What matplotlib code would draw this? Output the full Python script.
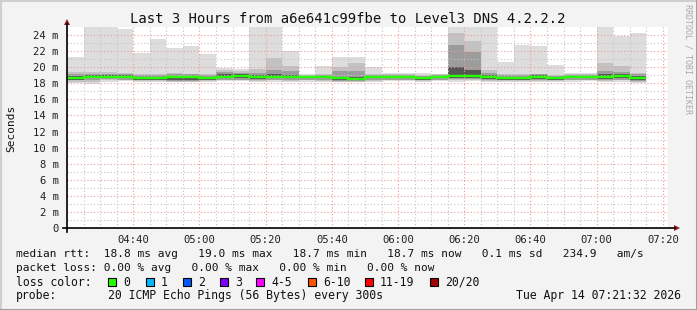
import matplotlib
matplotlib.use("Agg")
import matplotlib.pyplot as plt
import numpy as np
from matplotlib.patches import Rectangle, Polygon
from matplotlib.lines import Line2D

plt.rcParams['font.family'] = ['DejaVu Sans Mono']

W, H = 697, 310

# 5 minute smokeping steps, first bar starts 04:20, last one ends 07:15
first_bar = "04:20"
step_min = 5
t_start = "04:21:32"
t_end = "07:21:32"

# smoke levels (ms), one value per 5 min step
max_ms = [21.3, 25.5, 25.5, 24.8, 21.8, 23.5, 22.4, 22.6, 21.7, 19.9, 19.75, 25.5, 25.5, 22.0,
          19.1, 20.1, 21.3, 21.3, 20.0, 19.3, 19.25, 19.3, 19.2, 25.5, 25.5, 25.5, 20.6, 22.8,
          22.65, 20.3, 19.25, 19.25, 25.5, 23.9, 24.2]
hi1_ms = [19.4, 19.4, 19.4, 19.3, 19.2, 19.2, 19.3, 19.2, 19.1, 19.7, 19.5, 19.8, 21.2, 20.2,
          19.0, 19.1, 20.0, 20.5, 19.1, 19.2, 19.2, 19.0, 19.1, 24.2, 23.2, 19.6, 19.1, 19.2,
          19.2, 19.0, 19.1, 19.1, 20.5, 20.1, 19.3]
hi2_ms = [19.1, 19.2, 19.2, 19.2, 19.0, 19.0, 19.1, 19.1, 19.0, 19.4, 19.3, 19.3, 19.6, 19.5,
          18.95, 19.0, 19.5, 19.5, 19.0, 19.0, 19.0, 18.9, 19.0, 22.8, 21.9, 19.3, 19.0, 19.0,
          19.1, 18.9, 19.0, 19.0, 19.5, 19.4, 19.1]
hi3_ms = [18.9, 19.0, 19.0, 19.0, 18.8, 18.8, 18.9, 18.9, 18.8, 19.1, 19.1, 19.0, 19.1, 19.0,
          18.9, 18.9, 18.8, 18.8, 18.9, 18.9, 18.9, 18.8, 18.9, 20.0, 19.6, 19.0, 18.8, 18.8,
          19.0, 18.8, 18.9, 18.9, 19.1, 19.1, 18.9]
median_ms = [18.6, 18.8, 18.8, 18.8, 18.6, 18.6, 18.8, 18.8, 18.6, 18.8, 18.9, 18.8, 18.8, 18.8,
             18.8, 18.8, 18.6, 18.55, 18.8, 18.8, 18.8, 18.6, 18.8, 18.95, 18.95, 18.75, 18.6, 18.6,
             18.8, 18.65, 18.8, 18.8, 18.8, 18.95, 18.6]
lo3_ms = [18.45, 18.6, 18.65, 18.6, 18.45, 18.45, 18.35, 18.35, 18.45, 18.6, 18.6, 18.55, 18.6, 18.6,
          18.6, 18.6, 18.4, 18.4, 18.6, 18.6, 18.6, 18.45, 18.6, 18.7, 18.7, 18.55, 18.45, 18.45,
          18.55, 18.45, 18.6, 18.6, 18.55, 18.6, 18.4]
lo2_ms = [18.35, 18.4, 18.5, 18.45, 18.35, 18.35, 18.3, 18.3, 18.35, 18.45, 18.45, 18.4, 18.45, 18.45,
          18.45, 18.45, 18.3, 18.3, 18.45, 18.45, 18.45, 18.35, 18.45, 18.5, 18.5, 18.4, 18.35, 18.35,
          18.4, 18.35, 18.45, 18.45, 18.4, 18.45, 18.3]
lo1_ms = [18.2, 18.2, 18.35, 18.35, 18.25, 18.25, 18.2, 18.2, 18.25, 18.35, 18.35, 18.25, 18.35, 18.3,
          18.35, 18.3, 18.2, 18.2, 18.3, 18.35, 18.35, 18.25, 18.35, 18.35, 18.4, 18.3, 18.25, 18.25,
          18.3, 18.25, 18.35, 18.35, 18.3, 18.35, 18.2]
min_ms = [18.05, 17.95, 18.1, 18.25, 18.15, 18.15, 18.1, 18.1, 18.15, 18.25, 18.25, 18.1, 18.2, 18.2,
          18.2, 18.15, 18.1, 18.1, 18.2, 18.25, 18.25, 18.15, 18.25, 18.2, 18.25, 18.15, 18.1, 18.1,
          18.15, 18.15, 18.2, 18.25, 18.15, 18.2, 18.05]

x_ticks = ["04:40", "05:00", "05:20", "05:40", "06:00", "06:20", "06:40", "07:00", "07:20"]
y_ticks = [0, 2, 4, 6, 8, 10, 12, 14, 16, 18, 20, 22, 24]

rtt_line = "median rtt:  18.8 ms avg   19.0 ms max   18.7 ms min   18.7 ms now   0.1 ms sd   234.9   am/s"
loss_line = "packet loss: 0.00 % avg   0.00 % max   0.00 % min   0.00 % now"
loss_labels = ["0", "1", "2", "3", "4-5", "6-10", "11-19", "20/20"]
loss_colors = ["#26ff00", "#00b8ff", "#0059ff", "#7e00ff", "#ff00ff", "#ff5500", "#ff0000", "#a10000"]
probe_text = "20 ICMP Echo Pings (56 Bytes) every 300s"
stamp = "Tue Apr 14 07:21:32 2026"
title = "Last 3 Hours from a6e641c99fbe to Level3 DNS 4.2.2.2"


def to_min(s):
    parts = [int(p) for p in s.split(":")]
    m = parts[0] * 60 + parts[1]
    if len(parts) > 2:
        m += parts[2] / 60.0
    return m


def fx(px):
    return px / W


def fy(py):
    return 1 - py / H


fig = plt.figure(figsize=(W / 100, H / 100), dpi=100, facecolor="#f3f3f3")
ax = fig.add_axes([fx(67), fy(228), fx(668) - fx(67), fy(27) - fy(228)])
ax.set_facecolor("white")

n = len(median_ms)
edges = to_min(first_bar) + step_min * np.arange(n + 1)
left = edges[:-1]

layers = [
    (min_ms, max_ms, "#dddddd"),
    (lo1_ms, hi1_ms, "#c2c2c2"),
    (lo2_ms, hi2_ms, "#9c9c9c"),
    (lo3_ms, hi3_ms, "#555555"),
]
for lo, hi, col in layers:
    lo = np.array(lo)
    hi = np.array(hi)
    ax.bar(left, hi - lo, bottom=lo, width=step_min, align="edge", color=col,
           linewidth=0, zorder=1)

ax.stairs(median_ms, edges, color="#26ff00", linewidth=1.7, zorder=4, baseline=None)

ax.set_xlim(to_min(t_start), to_min(t_end))
ax.set_ylim(0, 25)

ax.set_xticks([to_min(t) for t in x_ticks])
ax.set_xticklabels(x_ticks)
ax.set_xticks(np.arange(to_min(first_bar), to_min(t_end), step_min), minor=True)
ax.set_yticks(y_ticks)
ax.set_yticklabels(["0" if v == 0 else "%d m" % v for v in y_ticks])
ax.set_yticks(np.arange(1, 25, 2), minor=True)

ax.grid(which="minor", color="#c4c4c4", linestyle=(0, (1, 2)), linewidth=0.8, zorder=2)
ax.grid(which="major", color="#f29a9a", linestyle=(0, (1, 2)), linewidth=0.8, zorder=3)
ax.set_axisbelow(False)
ax.tick_params(which="both", length=0, labelsize=7.6, colors="#202020")
ax.tick_params(axis="x", pad=5)
ax.tick_params(axis="y", pad=6)
for s in ax.spines.values():
    s.set_visible(False)

# axes with arrows
fig.add_artist(Line2D([fx(63), fx(675)], [fy(228), fy(228)], color="black", lw=1.2))
fig.add_artist(Line2D([fx(67), fx(67)], [fy(232), fy(24)], color="black", lw=1.2))
fig.add_artist(Polygon([(fx(674), fy(225)), (fx(680), fy(228)), (fx(674), fy(231))],
                       closed=True, color="#8b1a1a", lw=0))
fig.add_artist(Polygon([(fx(64), fy(25)), (fx(67), fy(19)), (fx(70), fy(25))],
                       closed=True, color="#8b1a1a", lw=0))

# frame shading
fig.add_artist(Line2D([0, 1], [fy(0.5), fy(0.5)], color="#cfcfcf", lw=1.5))
fig.add_artist(Line2D([fx(0.5), fx(0.5)], [0, 1], color="#cfcfcf", lw=1.5))
fig.add_artist(Line2D([0, 1], [fy(309.5), fy(309.5)], color="#9e9e9e", lw=1.5))
fig.add_artist(Line2D([fx(696.5), fx(696.5)], [0, 1], color="#9e9e9e", lw=1.5))

fig.text(fx(348), fy(19), title, ha="center", va="center", fontsize=10, color="#111111")
fig.text(fx(11), fy(128), "Seconds", rotation=90, ha="center", va="center", fontsize=8,
         color="#111111")
fig.text(fx(688), fy(4), "RRDTOOL / TOBI OETIKER", rotation=270, ha="center", va="top",
         fontsize=6, color="#a8a8a8")

fs = 8.3
tc = "#111111"
rows = [254, 268, 282, 296]
fig.text(fx(16), fy(rows[0]), rtt_line, ha="left", va="center", fontsize=8.05, color=tc)
fig.text(fx(16), fy(rows[1]), loss_line, ha="left", va="center", fontsize=8.05, color=tc)
fig.text(fx(16), fy(rows[2]), "loss color:", ha="left", va="center", fontsize=fs, color=tc)
sq_x = [108, 146, 183, 220, 256, 308, 365, 430]
for lab, col, x in zip(loss_labels, loss_colors, sq_x):
    fig.add_artist(Rectangle((fx(x), fy(rows[2] + 4)), fx(8), 8 / H, facecolor=col,
                             edgecolor="black", lw=0.8))
    fig.text(fx(x + 15), fy(rows[2]), lab, ha="left", va="center", fontsize=fs, color=tc)
fig.text(fx(16), fy(rows[3]), "probe:", ha="left", va="center", fontsize=fs, color=tc)
fig.text(fx(108), fy(rows[3]), probe_text, ha="left", va="center", fontsize=fs, color=tc)
fig.text(fx(681), fy(rows[3]), stamp, ha="right", va="center", fontsize=fs, color=tc)

fig.savefig("out.png", dpi=100, facecolor=fig.get_facecolor())
